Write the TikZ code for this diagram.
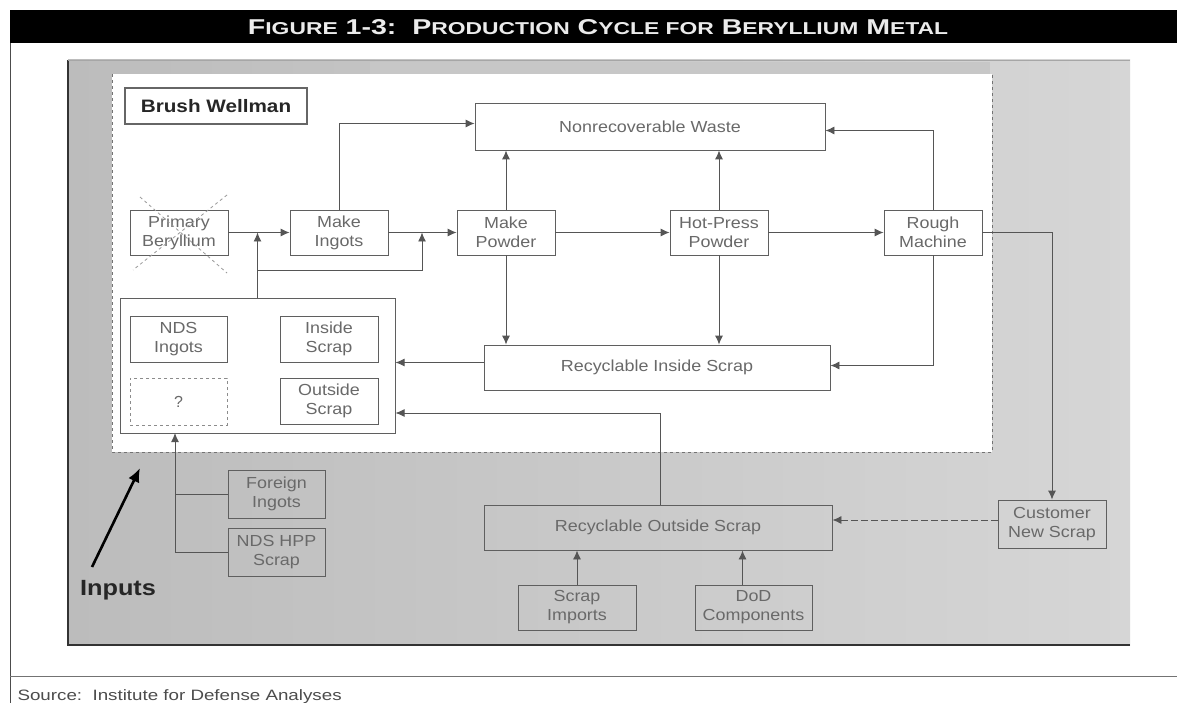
\documentclass[tikz,border=0pt]{standalone}
\usepackage{fontspec}
\setmainfont{Liberation Sans}
\usetikzlibrary{arrows.meta,calc}
\definecolor{panelL}{RGB}{188,188,188}
\definecolor{panelR}{RGB}{214,214,214}
\definecolor{boxline}{RGB}{95,95,95}
\definecolor{boxtext}{RGB}{105,105,105}
\definecolor{connline}{RGB}{85,85,85}
\newcommand{\wtxt}[1]{\scalebox{1.12}[1]{#1}}
\begin{document}
\begin{tikzpicture}[x=1pt,y=-1pt,
  box/.style={draw=boxline, line width=0.9pt, fill=white, inner sep=1pt,
    align=center, text=boxtext, font=\fontsize{16}{19}\selectfont},
  gbox/.style={box, fill=none},
  arr/.style={draw=connline, line width=0.9pt, -{Latex[length=9pt,width=8pt]}},
  ln/.style={draw=connline, line width=0.9pt}]
\useasboundingbox (0,0) rectangle (1177,703);
\fill[white] (0,0) rectangle (1177,703);
% title bar
\fill[black] (10,10) rectangle (1177,43);
\node[text=white!92!black, anchor=base] (title) at (598,35)
  {\resizebox{700pt}{15pt}{\bfseries F{\fontsize{8}{9}\selectfont IGURE} 1-3:\ \ P{\fontsize{8}{9}\selectfont RODUCTION} C{\fontsize{8}{9}\selectfont YCLE FOR} B{\fontsize{8}{9}\selectfont ERYLLIUM} M{\fontsize{8}{9}\selectfont ETAL}}};
% frame lines
\draw[black!70, line width=1pt] (10,43) -- (10,703);
\draw[black!55, line width=1pt] (10,676) -- (1177,676);
\node[anchor=base west, text=black!70, font=\fontsize{15}{18}\selectfont] (source) at (14,700) {\scalebox{1.25}[1]{Source:\ \ Institute for Defense Analyses}};
% gray panel
\shade[left color=panelL, right color=panelR] (68,60) rectangle (1130,645);
\fill[black!22] (370,62) rectangle (990,80);
\draw[black!80, line width=1.6pt] (68,60) -- (68,645) -- (1130,645);
\draw[black!35, line width=0.8pt] (68,60) -- (1130,60);
% Brush Wellman region
\fill[white] (112,74) rectangle (992,452);
\draw[black!55, dashed, line width=0.7pt] (112,74) -- (112,452) -- (992,452) -- (992,74);
\node[draw=black!60, line width=1.2pt, fill=white, minimum width=182pt, minimum height=36pt,
  font=\fontsize{18}{20}\selectfont\bfseries, text=black!85] (bw) at (216,106) {\scalebox{1.15}[1]{Brush Wellman}};
% main boxes
\node[box, minimum width=350pt, minimum height=47pt] (nw) at (650,126.5) {\wtxt{Nonrecoverable Waste}};
\node[box, minimum width=98pt, minimum height=45pt] (pb) at (179,232.5) {\wtxt{Primary}\\\wtxt{Beryllium}};
\node[box, minimum width=98pt, minimum height=45pt] (mi) at (339,232.5) {\wtxt{Make}\\\wtxt{Ingots}};
\node[box, minimum width=98pt, minimum height=45pt] (mp) at (506,232.5) {\wtxt{Make}\\\wtxt{Powder}};
\node[box, minimum width=98pt, minimum height=45pt] (hp) at (719,232.5) {\wtxt{Hot-Press}\\\wtxt{Powder}};
\node[box, minimum width=98pt, minimum height=45pt] (rm) at (933,232.5) {\wtxt{Rough}\\\wtxt{Machine}};
\node[box, minimum width=346pt, minimum height=45pt] (ris) at (657,367.5) {\wtxt{Recyclable Inside Scrap}};
% crossed out primary beryllium
\draw[black!40, line width=0.8pt, dashed] (140,197) -- (227,273);
\draw[black!40, line width=0.8pt, dashed] (227,195) -- (133,270);
% group of scrap boxes
\node[draw=boxline, line width=1pt, fill=white, minimum width=275pt, minimum height=135pt] (grp) at (257.5,365.5) {};
\node[box, minimum width=97pt, minimum height=46pt] (ndsi) at (178.5,339) {\wtxt{NDS}\\\wtxt{Ingots}};
\node[box, minimum width=98pt, minimum height=46pt] (isc) at (329,339) {\wtxt{Inside}\\\wtxt{Scrap}};
\node[box, dashed, draw=black!45, minimum width=97pt, minimum height=47pt] (q) at (178.5,401.5) {?};
\node[box, minimum width=98pt, minimum height=46pt] (osc) at (329,401) {\wtxt{Outside}\\\wtxt{Scrap}};
% lower boxes
\node[gbox, minimum width=97pt, minimum height=48pt] (fi) at (276.5,494) {\wtxt{Foreign}\\\wtxt{Ingots}};
\node[gbox, minimum width=97pt, minimum height=48pt] (hpp) at (276.5,552) {\wtxt{NDS HPP}\\\wtxt{Scrap}};
\node[gbox, minimum width=348pt, minimum height=45pt] (ros) at (658,527.5) {\wtxt{Recyclable Outside Scrap}};
\node[gbox, minimum width=118pt, minimum height=45pt] (si) at (577,607.5) {\wtxt{Scrap}\\\wtxt{Imports}};
\node[gbox, minimum width=117pt, minimum height=45pt] (dod) at (753.5,607.5) {\wtxt{DoD}\\\wtxt{Components}};
\node[gbox, minimum width=108pt, minimum height=48pt] (cns) at (1052,524) {\wtxt{Customer}\\\wtxt{New Scrap}};
% coordinates
\coordinate (j1) at (257.5,232.5);
\coordinate (j2) at (422,232.5);
\coordinate (gb) at (175,433);
% connectors
\draw[arr] (pb.east) -- (mi.west);
\draw[arr] (mi.east) -- (mp.west);
\draw[arr] (mp.east) -- (hp.west);
\draw[arr] (hp.east) -- (rm.west);
\draw[arr] (mi.north) |- ([yshift=3pt]nw.west);
\draw[arr] (mp.north) -- (mp.north |- nw.south);
\draw[arr] (hp.north) -- (hp.north |- nw.south);
\draw[arr] (rm.north) |- ([yshift=-4pt]nw.east);
\draw[arr] (grp.north) -- (j1);
\draw[arr] ($(grp.north)+(0,-27)$) -| (j2);
\draw[arr] (mp.south) -- (mp.south |- ris.north);
\draw[arr] (hp.south) -- (hp.south |- ris.north);
\draw[arr] (rm.south) |- ([yshift=2pt]ris.east);
\draw[arr] ([yshift=5pt]ris.west) -- ([yshift=5pt]ris.west -| grp.east);
\draw[arr] (rm.east) -| (cns.north);
\draw[arr, dash pattern=on 7pt off 3pt] ([yshift=4pt]cns.west) -- ([yshift=4pt]cns.west -| ros.east);
\draw[arr] ([xshift=2pt]ros.north) |- ([yshift=-47.5pt]grp.east);
\draw[arr] (si.north) -- (si.north |- ros.south);
\draw[arr] ([xshift=-11pt]dod.north) -- ([xshift=-11pt]dod.north |- ros.south);
\draw[arr] (hpp.west) -| (gb);
\draw[ln] (fi.west) -- (fi.west -| gb);
% inputs
\draw[black, line width=2.6pt, -{Latex[length=14pt,width=12pt]}] (92,567) -- (140,468);
\node[font=\fontsize{22}{24}\selectfont\bfseries, text=black!85] (inputs) at (118,590) {\scalebox{1.15}[1]{Inputs}};
\end{tikzpicture}
\end{document}
